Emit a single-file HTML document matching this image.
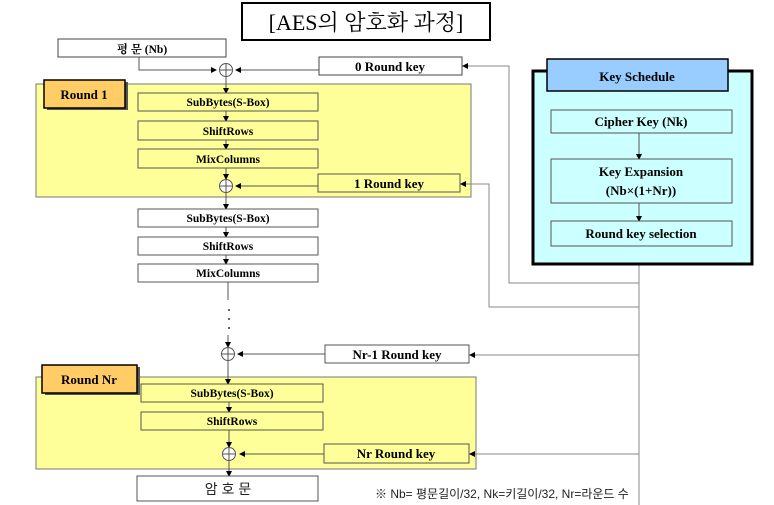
<!DOCTYPE html>
<html><head><meta charset="utf-8"><style>
body{margin:0;background:#fff}
svg{display:block}
.b{font-family:"Liberation Serif","Noto Serif CJK SC",serif;font-weight:bold;font-size:13px;text-anchor:middle}
.s{font-family:"Liberation Serif","Noto Serif CJK SC",serif;font-weight:bold;font-size:11.5px;text-anchor:middle}
.k{font-family:"Liberation Sans","Noto Sans CJK KR",sans-serif;text-anchor:middle}
</style></head><body>
<svg width="774" height="505" viewBox="0 0 774 505" xmlns="http://www.w3.org/2000/svg">
<defs><marker id="a" markerWidth="6" markerHeight="6" refX="5" refY="3" orient="auto"><path d="M0,0 L6,3 L0,6z" fill="#000"/></marker></defs>
<!-- title -->
<rect x="242" y="3" width="248" height="37" fill="#fff" stroke="#000" stroke-width="2"/>
<text x="366" y="30" font-family="Liberation Serif,'Noto Serif CJK KR',serif" font-size="22" text-anchor="middle">[AES의 암호화 과정]</text>
<!-- plaintext -->
<rect x="58" y="39" width="168" height="18" fill="#fff" stroke="#444"/>
<text x="142" y="53" class="s" font-size="12">평 문 (Nb)</text>
<polyline points="139,57 139,70 216,70" fill="none" stroke="#555" marker-end="url(#a)"/>
<!-- 0 round key -->
<rect x="319" y="57" width="143" height="18" fill="#fff" stroke="#444"/>
<text x="390" y="71" class="b">0 Round key</text>
<line x1="319" y1="70" x2="236" y2="70" stroke="#555" marker-end="url(#a)"/>
<!-- round 1 -->
<rect x="36" y="84" width="435" height="113" fill="#ffff99" stroke="#777"/>
<rect x="47" y="82" width="81" height="28" fill="#555"/>
<rect x="44" y="80" width="81" height="28" fill="#ffcc66" stroke="#000" stroke-width="1.5"/>
<text x="84" y="99" class="b">Round 1</text>
<line x1="226" y1="77" x2="226" y2="93" stroke="#555" marker-end="url(#a)"/>
<rect x="138" y="93" width="180" height="18" fill="#ffff99" stroke="#555"/>
<text x="228" y="106" class="s">SubBytes(S-Box)</text>
<line x1="226" y1="111" x2="226" y2="121" stroke="#555" marker-end="url(#a)"/>
<rect x="138" y="121" width="180" height="19" fill="#ffff99" stroke="#555"/>
<text x="228" y="135" class="s">ShiftRows</text>
<line x1="226" y1="140" x2="226" y2="149" stroke="#555" marker-end="url(#a)"/>
<rect x="138" y="149" width="180" height="19" fill="#ffff99" stroke="#555"/>
<text x="228" y="163" class="s">MixColumns</text>
<line x1="226" y1="168" x2="226" y2="179" stroke="#555" marker-end="url(#a)"/>
<rect x="318" y="174" width="142" height="18" fill="#ffff99" stroke="#555"/>
<text x="389" y="188" class="b">1 Round key</text>
<line x1="318" y1="186" x2="236" y2="186" stroke="#555" marker-end="url(#a)"/>
<!-- middle -->
<line x1="226" y1="193" x2="226" y2="209" stroke="#555" marker-end="url(#a)"/>
<rect x="138" y="209" width="180" height="18" fill="#fff" stroke="#555"/>
<text x="228" y="222" class="s">SubBytes(S-Box)</text>
<line x1="226" y1="227" x2="226" y2="237" stroke="#555" marker-end="url(#a)"/>
<rect x="138" y="237" width="180" height="18" fill="#fff" stroke="#555"/>
<text x="228" y="250" class="s">ShiftRows</text>
<line x1="226" y1="255" x2="226" y2="264" stroke="#555" marker-end="url(#a)"/>
<rect x="138" y="264" width="180" height="18" fill="#fff" stroke="#555"/>
<text x="228" y="277" class="s">MixColumns</text>
<line x1="228" y1="282" x2="228" y2="300" stroke="#555"/>
<g fill="#333"><circle cx="229" cy="310" r="1"/><circle cx="229" cy="319" r="1"/><circle cx="229" cy="328" r="1"/></g>
<line x1="228" y1="335" x2="228" y2="347" stroke="#555" marker-end="url(#a)"/>
<rect x="325" y="345" width="144" height="18" fill="#fff" stroke="#555"/>
<text x="397" y="359" class="b">Nr-1 Round key</text>
<line x1="325" y1="354" x2="238" y2="354" stroke="#555" marker-end="url(#a)"/>
<!-- round Nr -->
<rect x="36" y="377" width="440" height="92" fill="#ffff99" stroke="#777"/>
<line x1="228" y1="361" x2="228" y2="384" stroke="#555" marker-end="url(#a)"/>
<rect x="45" y="367" width="95" height="28" fill="#555"/>
<rect x="42" y="365" width="95" height="28" fill="#ffcc66" stroke="#000" stroke-width="1.5"/>
<text x="89" y="384" class="b">Round Nr</text>
<rect x="141" y="384" width="182" height="18" fill="#ffff99" stroke="#555"/>
<text x="232" y="397" class="s">SubBytes(S-Box)</text>
<line x1="229" y1="402" x2="229" y2="412" stroke="#555" marker-end="url(#a)"/>
<rect x="141" y="412" width="182" height="18" fill="#ffff99" stroke="#555"/>
<text x="232" y="425" class="s">ShiftRows</text>
<line x1="229" y1="430" x2="229" y2="447" stroke="#555" marker-end="url(#a)"/>
<rect x="324" y="444" width="145" height="19" fill="#ffff99" stroke="#555"/>
<text x="396" y="458" class="b">Nr Round key</text>
<line x1="324" y1="454" x2="240" y2="454" stroke="#555" marker-end="url(#a)"/>
<line x1="229" y1="461" x2="229" y2="476" stroke="#555" marker-end="url(#a)"/>
<rect x="137" y="476" width="181" height="25" fill="#fff" stroke="#555"/>
<text x="228" y="494" class="k" font-size="14" fill="#222">암 호 문</text>
<text x="375" y="498" font-family="Liberation Sans,'Noto Sans CJK KR',sans-serif" font-size="12" fill="#222">※ Nb= 평문길이/32, Nk=키길이/32, Nr=라운드 수</text>
<!-- XORs -->
<g fill="#fff" stroke="#555">
<circle cx="226" cy="70" r="6.5"/><circle cx="226" cy="186" r="6.5"/><circle cx="228" cy="354" r="6.5"/><circle cx="229" cy="454" r="6.5"/></g>
<g stroke="#555"><path d="M219.5,70h13M226,63.5v13M219.5,186h13M226,179.5v13M221.5,354h13M228,347.5v13M222.5,454h13M229,447.5v13"/></g>
<!-- key lines -->
<g fill="none" stroke="#888">
<line x1="639" y1="264" x2="639" y2="505"/>
<polyline points="639,283 509,283 509,66 466,66"/>
<polyline points="639,307 489,307 489,184 464,184"/>
<line x1="639" y1="355" x2="473" y2="355"/>
<line x1="639" y1="454" x2="473" y2="454"/>
</g>
<g fill="#000"><path d="M462,66l6,-3v6z"/><path d="M460,184l6,-3v6z"/><path d="M469,355l6,-3v6z"/><path d="M469,454l6,-3v6z"/></g>
<!-- key schedule -->
<rect x="533" y="71" width="219" height="193" fill="#ccffff" stroke="#000" stroke-width="3"/>
<rect x="547" y="59" width="181" height="32" fill="#99ccff" stroke="#000" stroke-width="1.5"/>
<text x="637" y="81" class="b" font-size="15">Key Schedule</text>
<rect x="551" y="110" width="181" height="23" fill="#ccffff" stroke="#555"/>
<text x="641" y="126" class="b">Cipher Key (Nk)</text>
<line x1="639" y1="133" x2="639" y2="159" stroke="#555" marker-end="url(#a)"/>
<rect x="551" y="159" width="181" height="44" fill="#ccffff" stroke="#555"/>
<text x="641" y="176" class="b">Key Expansion</text>
<text x="641" y="195" class="b">(Nb×(1+Nr))</text>
<line x1="639" y1="203" x2="639" y2="221" stroke="#555" marker-end="url(#a)"/>
<rect x="551" y="221" width="181" height="25" fill="#ccffff" stroke="#555"/>
<text x="641" y="238" class="b">Round key selection</text>
</svg>
</body></html>
